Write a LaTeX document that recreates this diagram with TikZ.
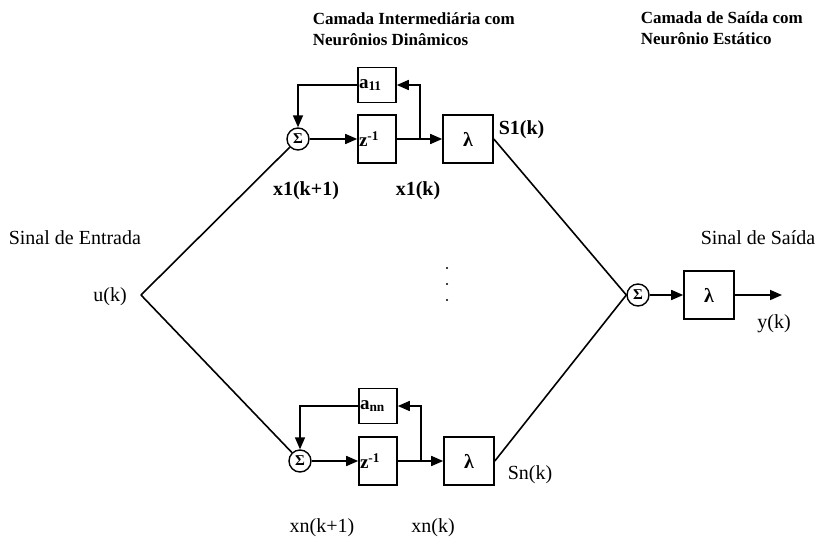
\documentclass[tikz,border=0pt]{standalone}
\usepackage{fontspec}
\setmainfont{Liberation Serif}
\usetikzlibrary{arrows.meta}
\begin{document}
\begin{tikzpicture}[x=1pt,y=-1pt,
  line width=1.6pt,
  blk/.style={draw, line width=1.6pt, minimum width=38pt, minimum height=35pt, inner sep=0pt},
  zblk/.style={blk, minimum height=48pt},
  lblk/.style={blk, minimum width=50pt, minimum height=48pt, font=\fontsize{20}{24}\bfseries\selectfont},
  sumc/.style={draw, circle, line width=1.4pt, minimum size=22pt, inner sep=0pt, font=\fontsize{15}{15}\bfseries\selectfont},
  arr/.style={-{Triangle[length=12pt,width=10pt]}},
  lbl/.style={font=\fontsize{20}{24}\selectfont, inner sep=0pt},
  blbl/.style={font=\fontsize{20}{24}\bfseries\selectfont, inner sep=0pt},
  ttl/.style={font=\fontsize{17}{21}\bfseries\selectfont, align=left, anchor=north west, inner sep=0pt},
  boxtxt/.style={anchor=west, inner sep=1pt, font=\fontsize{19}{20}\bfseries\selectfont},
  dotn/.style={circle, fill, inner sep=0pt, minimum size=2.4pt}
]
\fill[white] (0,0) rectangle (824,544);
\useasboundingbox (0,0) rectangle (824,544);

% titles
\node[ttl] (t1) at (312,12) {Camada Intermediária com\\Neurônios Dinâmicos};
\node[ttl] (t2) at (640,11) {Camada de Saída com\\Neurônio Estático};

% side labels
\node[lbl, anchor=west] (sin) at (8,238) {Sinal de Entrada};
\node[lbl, anchor=west] (sout) at (700,238) {Sinal de Saída};
\node[lbl] (uk) at (110,297) {u(k)};
\coordinate (u) at (141,295);

% top neuron
\node[sumc] (s1) at (298,139) {Σ};
\node[zblk, label={[boxtxt]west:z\textsuperscript{-1}}] (z1) at (377,139) {};
\node[blk, label={[boxtxt]west:a\textsubscript{11}}] (a1) at (377,85) {};
\node[lblk] (l1) at (468,139) {λ};
\coordinate (b1) at (420,139);

% bottom neuron
\node[sumc] (sn) at (300,461) {Σ};
\node[zblk, label={[boxtxt]west:z\textsuperscript{-1}}] (zn) at (378,461) {};
\node[blk, label={[boxtxt]west:a\textsubscript{nn}}] (an) at (378,406) {};
\node[lblk] (ln) at (469,461) {λ};
\coordinate (bn) at (421,461);

% output neuron
\node[sumc] (so) at (638,295) {Σ};
\node[lblk] (lo) at (709,295) {λ};
\coordinate (yo) at (782,295);

% connections top
\draw (u) -- (s1);
\draw[arr] (s1) -- (z1);
\draw[arr] (z1) -- (l1);
\draw[arr] (b1) |- (a1);
\draw[arr] (a1.west) -| (s1.north);
\draw (l1.east) -- (so.west);

% connections bottom
\draw (u) -- (sn);
\draw[arr] (sn) -- (zn);
\draw[arr] (zn) -- (ln);
\draw[arr] (bn) |- (an);
\draw[arr] (an.west) -| (sn.north);
\draw (ln.east) -- (so.west);

% output
\draw[arr] (so) -- (lo);
\draw[arr] (lo) -- (yo);

% signal labels
\node[blbl] (x1a) at (306,191) {x1(k+1)};
\node[blbl] (x1b) at (418,191) {x1(k)};
\node[blbl, anchor=west] (s1k) at (498,130) {S1(k)};
\node[lbl] (xna) at (322,528) {xn(k+1)};
\node[lbl] (xnb) at (433,528) {xn(k)};
\node[lbl, anchor=west] (snk) at (507,475) {Sn(k)};
\node[lbl] (yk) at (774,324) {y(k)};

% dots
\node[dotn] (d1) at (447,268) {};
\node[dotn] (d2) at (447,284) {};
\node[dotn] (d3) at (447,300) {};
\end{tikzpicture}
\end{document}
